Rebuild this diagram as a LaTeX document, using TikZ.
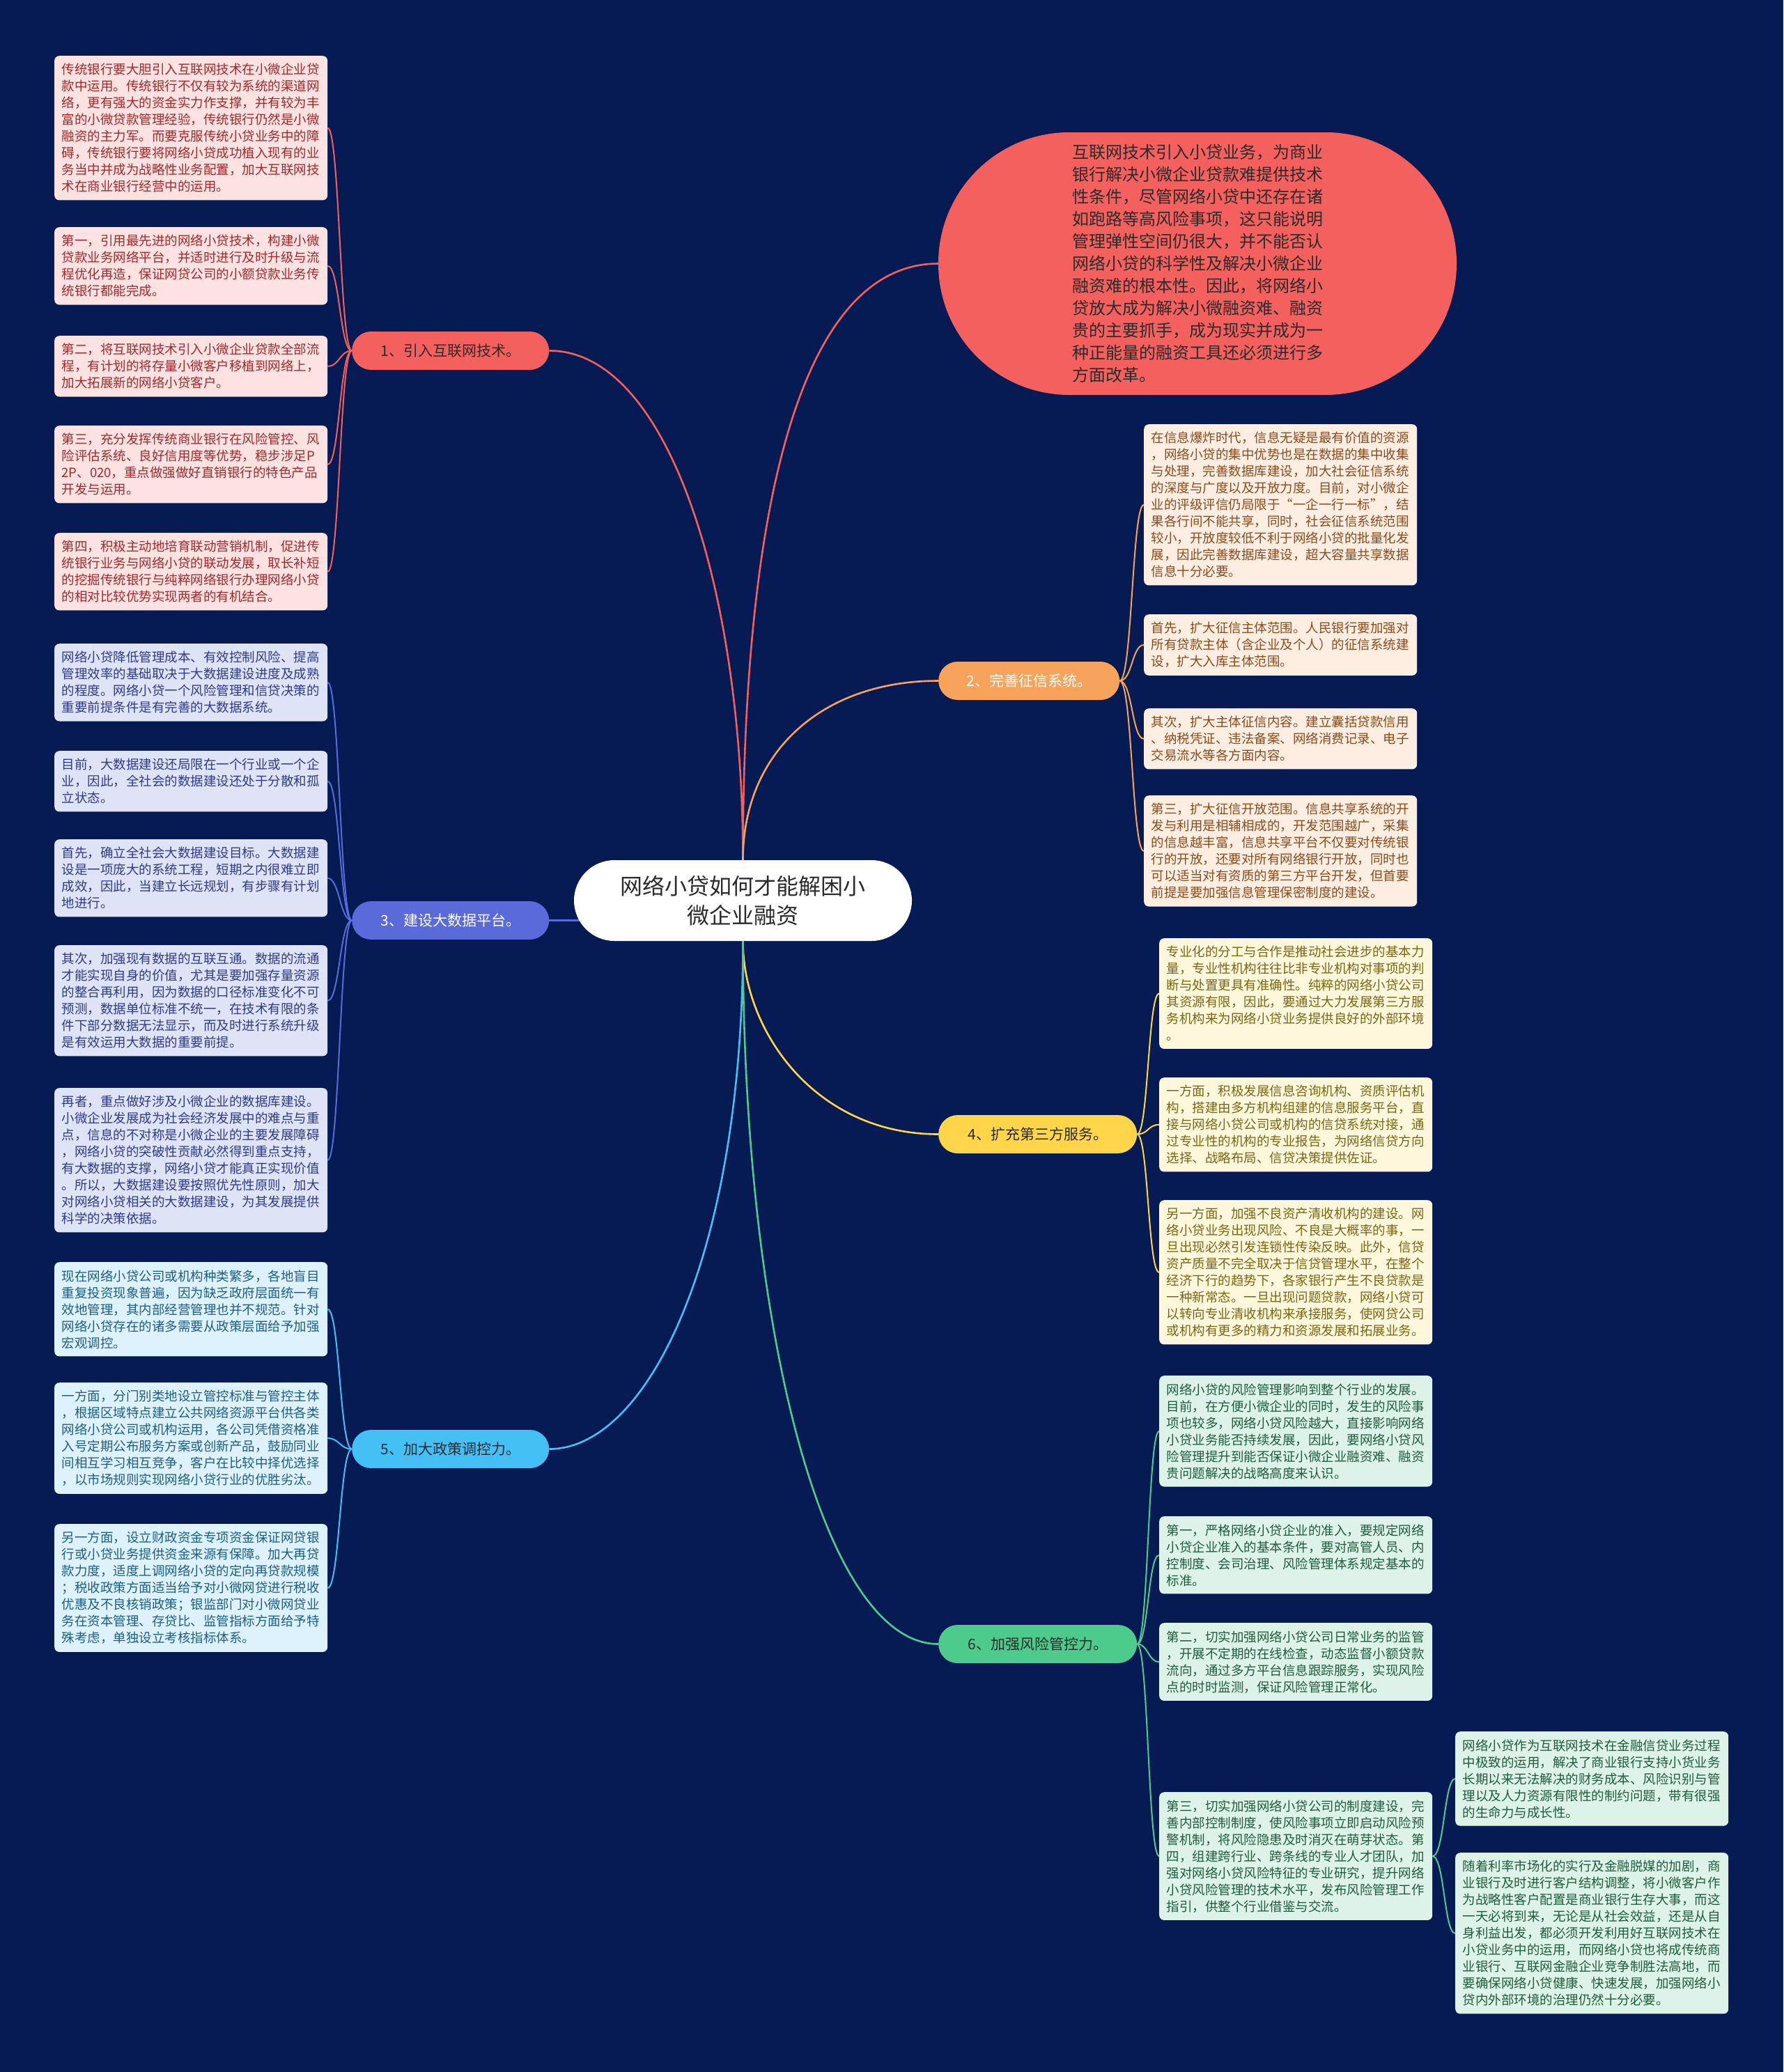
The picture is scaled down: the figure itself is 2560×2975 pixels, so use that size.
\documentclass[tikz,border=0pt]{standalone}
\usepackage{fontspec}
\setmainfont{Noto Sans CJK SC}
\usetikzlibrary{calc}
\pgfdeclarelayer{bg}
\pgfsetlayers{bg,main}
\definecolor{bgc}{HTML}{061B54}
\definecolor{cA}{HTML}{F4605D}
\definecolor{cB}{HTML}{F7A35C}
\definecolor{cC}{HTML}{5A6AD8}
\definecolor{cD}{HTML}{FFD54A}
\definecolor{cE}{HTML}{45C0F5}
\definecolor{cF}{HTML}{4DCB8D}
\definecolor{fA}{HTML}{FDE2E2}\definecolor{tA}{HTML}{A3282C}
\definecolor{fB}{HTML}{FDEEE1}\definecolor{tB}{HTML}{8B4A1C}
\definecolor{fC}{HTML}{DFE3F6}\definecolor{tC}{HTML}{2E3A8C}
\definecolor{fD}{HTML}{FEF7DC}\definecolor{tD}{HTML}{7A6612}
\definecolor{fE}{HTML}{DDF2FC}\definecolor{tE}{HTML}{1D5E88}
\definecolor{fF}{HTML}{DDF3E9}\definecolor{tF}{HTML}{1F5B3D}
\definecolor{darktxt}{HTML}{2B2B2B}
\begin{document}
\begin{tikzpicture}[x=1pt,y=-1pt,
  leaf/.style={anchor=north west, text width=371pt, align=left, inner xsep=10.5pt, inner ysep=11pt, rounded corners=7pt, font=\fontsize{18.5pt}{24pt}\selectfont},
  leafA/.style={leaf, fill=fA, text=tA},
  leafB/.style={leaf, fill=fB, text=tB},
  leafC/.style={leaf, fill=fC, text=tC},
  leafD/.style={leaf, fill=fD, text=tD},
  leafE/.style={leaf, fill=fE, text=tE},
  leafF/.style={leaf, fill=fF, text=tF},
  brnode/.style={anchor=west, rounded corners=27.5pt, minimum height=55pt, inner xsep=0pt, font=\fontsize{21pt}{26pt}\selectfont},
  conn/.style={line width=2.6pt},
  lconn/.style={line width=2pt}]
\useasboundingbox (0,0) rectangle (2560,2975);

% center
\node[fill=white, text=darktxt, rounded corners=58pt, minimum width=485pt, minimum height=116pt, align=center, font=\fontsize{32pt}{42pt}\selectfont] (ctr) at (1066.5,1293) {网络小贷如何才能解困小\\微企业融资};

% bubble
\node[fill=cA, text=darktxt, rounded corners=188pt, minimum width=744pt, minimum height=377pt, text width=360pt, align=left, font=\fontsize{24pt}{32pt}\selectfont] (bub) at (1719,378.5) {互联网技术引入小贷业务，为商业\\
银行解决小微企业贷款难提供技术\\
性条件，尽管网络小贷中还存在诸\\
如跑路等高风险事项，这只能说明\\
管理弹性空间仍很大，并不能否认\\
网络小贷的科学性及解决小微企业\\
融资难的根本性。因此，将网络小\\
贷放大成为解决小微融资难、融资\\
贵的主要抓手，成为现实并成为一\\
种正能量的融资工具还必须进行多\\
方面改革。};

% branches
\node[brnode, fill=cA, text=darktxt, minimum width=283pt] (b1) at (505,503.5) {1、引入互联网技术。};
\node[brnode, fill=cC, text=white, minimum width=283pt] (b3) at (505,1321.5) {3、建设大数据平台。};
\node[brnode, fill=cE, text=darktxt, minimum width=283pt] (b5) at (505,2080.5) {5、加大政策调控力。};
\node[brnode, fill=cB, text=white, minimum width=260pt] (b2) at (1347,977.5) {2、完善征信系统。};
\node[brnode, fill=cD, text=darktxt, minimum width=285pt] (b4) at (1347,1628.5) {4、扩充第三方服务。};
\node[brnode, fill=cF, text=darktxt, minimum width=285pt] (b6) at (1347,2360.5) {6、加强风险管控力。};

% branch 1 leaves
\node[leafA] (L1) at (78,80) {传统银行要大胆引入互联网技术在小微企业贷\\
款中运用。传统银行不仅有较为系统的渠道网\\
络，更有强大的资金实力作支撑，并有较为丰\\
富的小微贷款管理经验，传统银行仍然是小微\\
融资的主力军。而要克服传统小贷业务中的障\\
碍，传统银行要将网络小贷成功植入现有的业\\
务当中并成为战略性业务配置，加大互联网技\\
术在商业银行经营中的运用。};
\node[leafA] (L2) at (78,326) {第一，引用最先进的网络小贷技术，构建小微\\
贷款业务网络平台，并适时进行及时升级与流\\
程优化再造，保证网贷公司的小额贷款业务传\\
统银行都能完成。};
\node[leafA] (L3) at (78,482) {第二，将互联网技术引入小微企业贷款全部流\\
程，有计划的将存量小微客户移植到网络上，\\
加大拓展新的网络小贷客户。};
\node[leafA] (L4) at (78,611) {第三，充分发挥传统商业银行在风险管控、风\\
险评估系统、良好信用度等优势，稳步涉足P\\
2P、020，重点做强做好直销银行的特色产品\\
开发与运用。};
\node[leafA] (L5) at (78,765) {第四，积极主动地培育联动营销机制，促进传\\
统银行业务与网络小贷的联动发展，取长补短\\
的挖掘传统银行与纯粹网络银行办理网络小贷\\
的相对比较优势实现两者的有机结合。};

% branch 3 leaves
\node[leafC] (L6) at (78,924) {网络小贷降低管理成本、有效控制风险、提高\\
管理效率的基础取决于大数据建设进度及成熟\\
的程度。网络小贷一个风险管理和信贷决策的\\
重要前提条件是有完善的大数据系统。};
\node[leafC] (L7) at (78,1078) {目前，大数据建设还局限在一个行业或一个企\\
业，因此，全社会的数据建设还处于分散和孤\\
立状态。};
\node[leafC] (L8) at (78,1205) {首先，确立全社会大数据建设目标。大数据建\\
设是一项庞大的系统工程，短期之内很难立即\\
成效，因此，当建立长远规划，有步骤有计划\\
地进行。};
\node[leafC] (L9) at (78,1357) {其次，加强现有数据的互联互通。数据的流通\\
才能实现自身的价值，尤其是要加强存量资源\\
的整合再利用，因为数据的口径标准变化不可\\
预测，数据单位标准不统一，在技术有限的条\\
件下部分数据无法显示，而及时进行系统升级\\
是有效运用大数据的重要前提。};
\node[leafC] (L10) at (78,1562) {再者，重点做好涉及小微企业的数据库建设。\\
小微企业发展成为社会经济发展中的难点与重\\
点，信息的不对称是小微企业的主要发展障碍\\
，网络小贷的突破性贡献必然得到重点支持，\\
有大数据的支撑，网络小贷才能真正实现价值\\
。所以，大数据建设要按照优先性原则，加大\\
对网络小贷相关的大数据建设，为其发展提供\\
科学的决策依据。};

% branch 5 leaves
\node[leafE] (L11) at (78,1812) {现在网络小贷公司或机构种类繁多，各地盲目\\
重复投资现象普遍，因为缺乏政府层面统一有\\
效地管理，其内部经营管理也并不规范。针对\\
网络小贷存在的诸多需要从政策层面给予加强\\
宏观调控。};
\node[leafE] (L12) at (78,1985) {一方面，分门别类地设立管控标准与管控主体\\
，根据区域特点建立公共网络资源平台供各类\\
网络小贷公司或机构运用，各公司凭借资格准\\
入号定期公布服务方案或创新产品，鼓励同业\\
间相互学习相互竞争，客户在比较中择优选择\\
，以市场规则实现网络小贷行业的优胜劣汰。};
\node[leafE] (L13) at (78,2188) {另一方面，设立财政资金专项资金保证网贷银\\
行或小贷业务提供资金来源有保障。加大再贷\\
款力度，适度上调网络小贷的定向再贷款规模\\
；税收政策方面适当给予对小微网贷进行税收\\
优惠及不良核销政策；银监部门对小微网贷业\\
务在资本管理、存贷比、监管指标方面给予特\\
殊考虑，单独设立考核指标体系。};

% branch 2 leaves
\node[leafB] (R1) at (1642,609) {在信息爆炸时代，信息无疑是最有价值的资源\\
，网络小贷的集中优势也是在数据的集中收集\\
与处理，完善数据库建设，加大社会征信系统\\
的深度与广度以及开放力度。目前，对小微企\\
业的评级评信仍局限于“一企一行一标”，结\\
果各行间不能共享，同时，社会征信系统范围\\
较小，开放度较低不利于网络小贷的批量化发\\
展，因此完善数据库建设，超大容量共享数据\\
信息十分必要。};
\node[leafB] (R2) at (1642,882) {首先，扩大征信主体范围。人民银行要加强对\\
所有贷款主体（含企业及个人）的征信系统建\\
设，扩大入库主体范围。};
\node[leafB] (R3) at (1642,1017) {其次，扩大主体征信内容。建立囊括贷款信用\\
、纳税凭证、违法备案、网络消费记录、电子\\
交易流水等各方面内容。};
\node[leafB] (R4) at (1642,1142) {第三，扩大征信开放范围。信息共享系统的开\\
发与利用是相辅相成的，开发范围越广，采集\\
的信息越丰富，信息共享平台不仅要对传统银\\
行的开放，还要对所有网络银行开放，同时也\\
可以适当对有资质的第三方平台开发，但首要\\
前提是要加强信息管理保密制度的建设。};

% branch 4 leaves
\node[leafD] (R5) at (1664,1347) {专业化的分工与合作是推动社会进步的基本力\\
量，专业性机构往往比非专业机构对事项的判\\
断与处置更具有准确性。纯粹的网络小贷公司\\
其资源有限，因此，要通过大力发展第三方服\\
务机构来为网络小贷业务提供良好的外部环境\\
。};
\node[leafD] (R6) at (1664,1547) {一方面，积极发展信息咨询机构、资质评估机\\
构，搭建由多方机构组建的信息服务平台，直\\
接与网络小贷公司或机构的信贷系统对接，通\\
过专业性的机构的专业报告，为网络信贷方向\\
选择、战略布局、信贷决策提供佐证。};
\node[leafD] (R7) at (1664,1723) {另一方面，加强不良资产清收机构的建设。网\\
络小贷业务出现风险、不良是大概率的事，一\\
旦出现必然引发连锁性传染反映。此外，信贷\\
资产质量不完全取决于信贷管理水平，在整个\\
经济下行的趋势下，各家银行产生不良贷款是\\
一种新常态。一旦出现问题贷款，网络小贷可\\
以转向专业清收机构来承接服务，使网贷公司\\
或机构有更多的精力和资源发展和拓展业务。};

% branch 6 leaves
\node[leafF] (R8) at (1664,1975) {网络小贷的风险管理影响到整个行业的发展。\\
目前，在方便小微企业的同时，发生的风险事\\
项也较多，网络小贷风险越大，直接影响网络\\
小贷业务能否持续发展，因此，要网络小贷风\\
险管理提升到能否保证小微企业融资难、融资\\
贵问题解决的战略高度来认识。};
\node[leafF] (R9) at (1664,2177) {第一，严格网络小贷企业的准入，要规定网络\\
小贷企业准入的基本条件，要对高管人员、内\\
控制度、会司治理、风险管理体系规定基本的\\
标准。};
\node[leafF] (R10) at (1664,2330) {第二，切实加强网络小贷公司日常业务的监管\\
，开展不定期的在线检查，动态监督小额贷款\\
流向，通过多方平台信息跟踪服务，实现风险\\
点的时时监测，保证风险管理正常化。};
\node[leafF] (R11) at (1664,2573) {第三，切实加强网络小贷公司的制度建设，完\\
善内部控制制度，使风险事项立即启动风险预\\
警机制，将风险隐患及时消灭在萌芽状态。第\\
四，组建跨行业、跨条线的专业人才团队，加\\
强对网络小贷风险特征的专业研究，提升网络\\
小贷风险管理的技术水平，发布风险管理工作\\
指引，供整个行业借鉴与交流。};
\node[leafF] (R12) at (2089,2486) {网络小贷作为互联网技术在金融信贷业务过程\\
中极致的运用，解决了商业银行支持小货业务\\
长期以来无法解决的财务成本、风险识别与管\\
理以及人力资源有限性的制约问题，带有很强\\
的生命力与成长性。};
\node[leafF] (R13) at (2089,2660) {随着利率市场化的实行及金融脱媒的加剧，商\\
业银行及时进行客户结构调整，将小微客户作\\
为战略性客户配置是商业银行生存大事，而这\\
一天必将到来，无论是从社会效益，还是从自\\
身利益出发，都必须开发利用好互联网技术在\\
小贷业务中的运用，而网络小贷也将成传统商\\
业银行、互联网金融企业竞争制胜法高地，而\\
要确保网络小贷健康、快速发展，加强网络小\\
贷内外部环境的治理仍然十分必要。};

\begin{pgfonlayer}{bg}
\fill[bgc] (0,0) rectangle (2560,2975);
% main connectors
\draw[conn,cA] (b1.east) .. controls +(172,0) and +(0,-385) .. (ctr.north);
\draw[conn,cA] (ctr.north) .. controls +(0,-500) and +(-200,0) .. (bub.west);
\draw[conn,cB] (ctr.north) .. controls +(0,-155) and +(-167,0) .. (b2.west);
\draw[conn,cC] (b3.east) -- (b3.east -| ctr.center);
\draw[conn,cD] (ctr.south) .. controls +(0,129) and +(-177,0) .. (b4.west);
\draw[conn,cE] (ctr.south) .. controls +(0,449) and +(142,0) .. (b5.east);
\draw[conn,cF] (ctr.south) .. controls +(0,549) and +(-167,0) .. (b6.west);
% leaf connectors
\foreach \n in {L1,L2,L3,L4,L5}
  \draw[lconn,cA] (b1.west) .. controls +(-17,0) and +(17,0) .. (\n.east);
\foreach \n in {L6,L7,L8,L9,L10}
  \draw[lconn,cC] (b3.west) .. controls +(-17,0) and +(17,0) .. (\n.east);
\foreach \n in {L11,L12,L13}
  \draw[lconn,cE] (b5.west) .. controls +(-17,0) and +(17,0) .. (\n.east);
\foreach \n in {R1,R2,R3,R4}
  \draw[lconn,cB] (b2.east) .. controls +(18,0) and +(-17,0) .. (\n.west);
\foreach \n in {R5,R6,R7}
  \draw[lconn,cD] (b4.east) .. controls +(16,0) and +(-16,0) .. (\n.west);
\foreach \n in {R8,R9,R10,R11}
  \draw[lconn,cF] (b6.east) .. controls +(16,0) and +(-16,0) .. (\n.west);
\foreach \n in {R12,R13}
  \draw[lconn,cF] (R11.east) .. controls +(17,0) and +(-16,0) .. (\n.west);
\end{pgfonlayer}
\end{tikzpicture}
\end{document}
